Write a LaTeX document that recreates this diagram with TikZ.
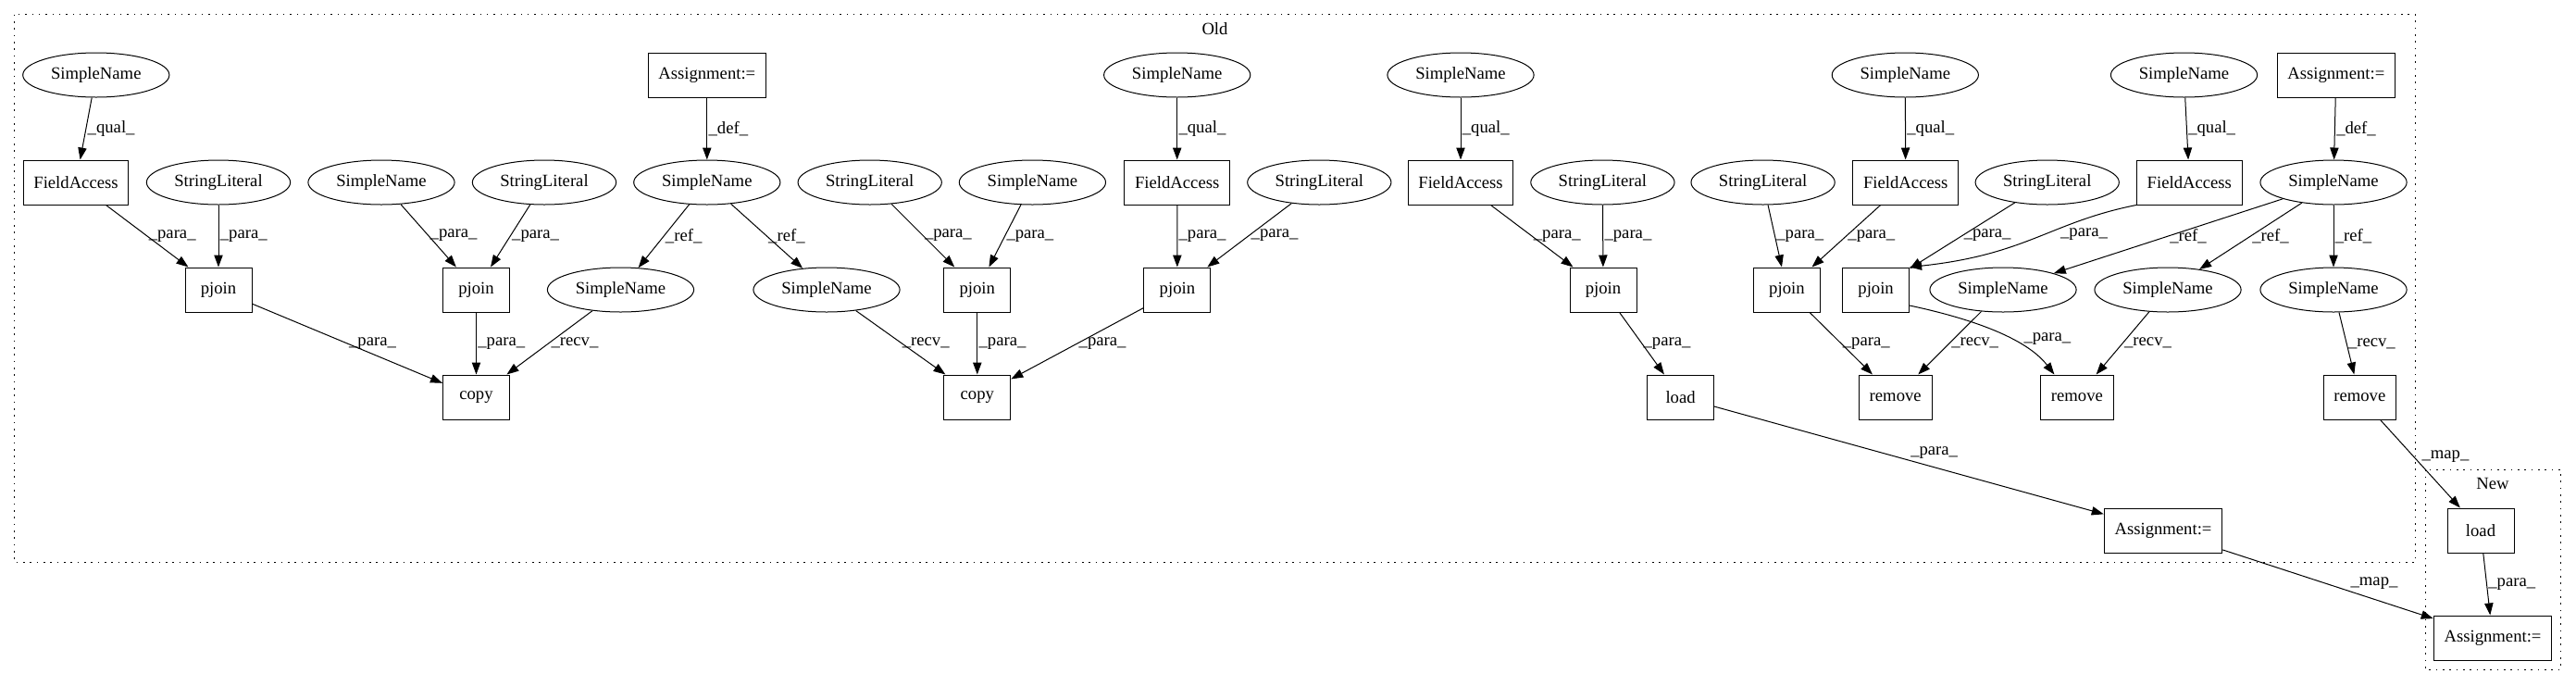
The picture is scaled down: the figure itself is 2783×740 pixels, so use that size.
\documentclass[tikz,border=0pt]{standalone}
\usepackage{fontspec}
\setmainfont{Liberation Serif}
\usetikzlibrary{shapes.geometric,arrows.meta}

\begin{document}
\begin{tikzpicture}[x=0.75pt,y=-0.75pt,line width=0.75pt,
  >={Triangle[length=9.75pt,width=7pt]},
  every node/.style={font=\fontsize{14}{17}\selectfont},
  ell/.style={draw,ellipse,inner xsep=5.4pt,minimum height=36pt},
  box/.style={draw,rectangle,minimum width=54pt,minimum height=36pt,inner xsep=8.5pt},
  lbl/.style={right,inner sep=1pt},
  clus/.style={draw,line width=1pt,dash pattern=on 1.2pt off 4.3pt}]
\useasboundingbox (0,0) rectangle (2783,740);

\draw[clus] (15.6,15.7) rectangle (2609.2,607.7);
\node (oldlbl) at (1312.5,31) {Old};
\draw[clus] (2620.2,507.3) rectangle (2766.5,723.3);
\node (newlbl) at (2693,522) {New};

\node[ell] (sna) at (103.8,81) {SimpleName};
\node[box] (asga) at (763.8,81) {Assignment:=};
\node[ell] (snc) at (1271.7,81) {SimpleName};
\node[ell] (sne) at (1578,81) {SimpleName};
\node[ell] (snf) at (2058.3,81) {SimpleName};
\node[ell] (sng) at (2359.5,81) {SimpleName};
\node[box] (asgb) at (2523.8,81) {Assignment:=};

\node[box] (faa) at (82,197) {FieldAccess};
\node[ell] (sla) at (236,197) {StringLiteral};
\node[ell] (snb) at (412,197) {SimpleName};
\node[ell] (slb) at (588,197) {StringLiteral};
\node[ell] (sndefa) at (763.8,197) {SimpleName};
\node[ell] (slc) at (939.7,197) {StringLiteral};
\node[ell] (snx) at (1115.4,197) {SimpleName};
\node[box] (fac) at (1271.7,197) {FieldAccess};
\node[ell] (sld) at (1425.3,197) {StringLiteral};
\node[box] (fae) at (1578,197) {FieldAccess};
\node[ell] (sle) at (1731.4,197) {StringLiteral};
\node[ell] (slf) at (1904.6,197) {StringLiteral};
\node[box] (faf) at (2058.7,197) {FieldAccess};
\node[ell] (slg) at (2211.7,197) {StringLiteral};
\node[box] (fag) at (2365.3,197) {FieldAccess};
\node[ell] (sndefb) at (2521,197) {SimpleName};

\node[box] (pja) at (236,313) {pjoin};
\node[box] (pjb) at (514.5,313) {pjoin};
\node[ell] (snra1) at (670.5,313) {SimpleName};
\node[ell] (snra2) at (893,313) {SimpleName};
\node[box] (pjc) at (1055.8,313) {pjoin};
\node[box] (pjd) at (1271.9,313) {pjoin};
\node[box] (pje) at (1732,313) {pjoin};
\node[box] (pjf) at (1930.4,313) {pjoin};
\node[box] (pjg) at (2026.6,313) {pjoin};
\node[ell] (snrb1) at (2164,313) {SimpleName};
\node[ell] (snrb2) at (2342,313) {SimpleName};
\node[ell] (snrb3) at (2521,313) {SimpleName};

\node[box] (copya) at (514.5,429) {copy};
\node[box] (copyb) at (1055.8,429) {copy};
\node[box] (loada) at (1815.6,429) {load};
\node[box] (rema) at (2047.7,429) {remove};
\node[box] (remb) at (2243.9,429) {remove};
\node[box] (remc) at (2549.3,429) {remove};

\node[box] (asgc) at (2337,573) {Assignment:=};
\node[box] (loadb) at (2680,573) {load};
\node[box] (asgd) at (2693,689) {Assignment:=};

\draw[->] (sna) -- node[lbl] {\_qual\_} (faa);
\draw[->] (faa) -- node[lbl] {\_para\_} (pja);
\draw[->] (sla) -- node[lbl] {\_para\_} (pja);
\draw[->] (snb) -- node[lbl] {\_para\_} (pjb);
\draw[->] (slb) -- node[lbl] {\_para\_} (pjb);
\draw[->] (pja) -- node[lbl] {\_para\_} (copya);
\draw[->] (pjb) -- node[lbl] {\_para\_} (copya);
\draw[->] (snra1) -- node[lbl] {\_recv\_} (copya);
\draw[->] (asga) -- node[lbl] {\_def\_} (sndefa);
\draw[->] (sndefa) -- node[lbl] {\_ref\_} (snra1);
\draw[->] (sndefa) -- node[lbl] {\_ref\_} (snra2);
\draw[->] (slc) -- node[lbl] {\_para\_} (pjc);
\draw[->] (snx) -- node[lbl] {\_para\_} (pjc);
\draw[->] (snc) -- node[lbl] {\_qual\_} (fac);
\draw[->] (fac) -- node[lbl] {\_para\_} (pjd);
\draw[->] (sld) -- node[lbl] {\_para\_} (pjd);
\draw[->] (snra2) -- node[lbl] {\_recv\_} (copyb);
\draw[->] (pjc) -- node[lbl] {\_para\_} (copyb);
\draw[->] (pjd) -- node[lbl] {\_para\_} (copyb);
\draw[->] (sne) -- node[lbl] {\_qual\_} (fae);
\draw[->] (fae) -- node[lbl] {\_para\_} (pje);
\draw[->] (sle) -- node[lbl] {\_para\_} (pje);
\draw[->] (pje) -- node[lbl] {\_para\_} (loada);
\draw[->] (slf) -- node[lbl] {\_para\_} (pjf);
\draw[->] (snf) -- node[lbl] {\_qual\_} (faf);
\draw[->] (faf) -- node[lbl] {\_para\_} (pjf);
\draw[->] (slg) -- node[lbl] {\_para\_} (pjg);
\draw[->] (sng) -- node[lbl] {\_qual\_} (fag);
\draw[->] (fag.south west) .. controls (2215,240) and (2190,275) .. node[lbl,pos=0.45,xshift=12pt] {\_para\_} (pjg.north east);
\draw[->] (pjf) -- node[lbl] {\_para\_} (rema);
\draw[->] (snrb1) -- node[lbl] {\_recv\_} (rema);
\draw[->] (pjg.-25) .. controls (2110,340) and (2185,360) .. node[lbl,pos=0.65,xshift=10pt] {\_para\_} (remb.135);
\draw[->] (snrb2) -- node[lbl] {\_recv\_} (remb);
\draw[->] (asgb) -- node[lbl] {\_def\_} (sndefb);
\draw[->] (sndefb) -- node[lbl] {\_ref\_} (snrb1);
\draw[->] (sndefb) -- node[lbl] {\_ref\_} (snrb2);
\draw[->] (sndefb) -- node[lbl] {\_ref\_} (snrb3);
\draw[->] (snrb3) -- node[lbl] {\_recv\_} (remc);
\draw[->] (loada) -- node[lbl,above right] {\_para\_} (asgc);
\draw[->] (remc) -- node[lbl,above right] {\_map\_} (loadb);
\draw[->] (asgc) -- node[lbl,above right,pos=0.6] {\_map\_} (asgd);
\draw[->] (loadb) -- node[lbl] {\_para\_} (asgd);
\end{tikzpicture}
\end{document}
